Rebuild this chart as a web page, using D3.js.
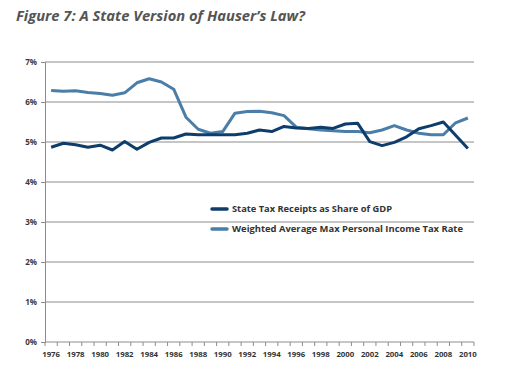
<!DOCTYPE html>
<html><head><meta charset="utf-8">
<script src="https://cdn.jsdelivr.net/npm/d3@7"></script>
<style>body{margin:0;background:#fff}svg{display:block}</style>
</head><body>
<svg id="c" width="505" height="386"></svg>
<script>
const years = d3.range(1976, 2011);
const stateTaxReceipts = [4.87,4.97,4.93,4.87,4.92,4.80,5.01,4.82,4.99,5.10,5.10,5.20,5.18,5.18,5.18,5.18,5.22,5.30,5.26,5.39,5.35,5.34,5.37,5.34,5.45,5.47,5.01,4.91,4.99,5.13,5.33,5.41,5.50,5.17,4.84];
const maxIncomeTaxRate = [6.29,6.27,6.28,6.24,6.21,6.17,6.23,6.48,6.58,6.50,6.32,5.62,5.32,5.22,5.26,5.72,5.76,5.77,5.73,5.66,5.37,5.33,5.30,5.28,5.26,5.26,5.23,5.30,5.41,5.30,5.22,5.18,5.18,5.48,5.60];
const yTicks = [0,1,2,3,4,5,6,7];
const xLabelYears = years.filter(y => y % 2 === 0);
const seriesNames = ["State Tax Receipts as Share of GDP","Weighted Average Max Personal Income Tax Rate"];

const svg = d3.select("#c");
const mLeft = 45, mRight = 474, mTop = 62, mBottom = 342;
const x = d3.scaleBand().domain(years).range([mLeft, mRight]);
const y = d3.scaleLinear().domain([0,7]).range([mBottom, mTop]);
const gridColor = "#8c8c8c";

svg.append("text").attr("x", 16).attr("y", 21)
  .attr("font-family", "Open Sans, sans-serif").attr("font-weight", "bold").attr("font-style", "italic")
  .attr("font-size", 14).attr("fill", "#555").attr("textLength", 289).attr("lengthAdjust","spacingAndGlyphs")
  .text("Figure 7: A State Version of Hauser\u2019s Law?");

// gridlines
svg.append("g").selectAll("line").data(yTicks.filter(d => d > 0)).join("line")
  .attr("x1", mLeft).attr("x2", mRight).attr("y1", d => y(d)).attr("y2", d => y(d))
  .attr("stroke", gridColor).attr("stroke-width", 1);

// y axis
const yAxis = d3.axisLeft(y).tickValues(yTicks).tickFormat(d => d + "%").tickSize(4).tickPadding(4);
const gy = svg.append("g").attr("transform", `translate(${mLeft},0)`).call(yAxis);
gy.select(".domain").attr("stroke", gridColor);
gy.selectAll(".tick line").attr("stroke", gridColor);
gy.selectAll("text").attr("font-family", "Open Sans, sans-serif").attr("font-weight", "bold")
  .attr("font-size", 8).attr("fill", "#3a3a3a");

// x axis
const gx = svg.append("g").attr("transform", `translate(0,${mBottom})`);
gx.append("line").attr("x1", mLeft).attr("x2", mRight).attr("y1", 0).attr("y2", 0).attr("stroke", gridColor);
const bounds = years.map(yr => x(yr)).concat([mRight]);
gx.selectAll("line.t").data(bounds).join("line").attr("class","t")
  .attr("x1", d => d).attr("x2", d => d).attr("y1", 0).attr("y2", 4).attr("stroke", gridColor);
gx.selectAll("text").data(xLabelYears).join("text")
  .attr("x", d => x(d) + x.bandwidth()/2).attr("y", 15)
  .attr("text-anchor", "middle").attr("font-family", "Open Sans, sans-serif").attr("font-weight", "bold")
  .attr("font-size", 7.8).attr("fill", "#333").text(d => d);

const line = d3.line().x((d,i) => x(years[i]) + x.bandwidth()/2).y(d => y(d));
const colors = ["#0f3d6b", "#4a7ea8"];
svg.append("path").datum(maxIncomeTaxRate).attr("d", line).attr("fill","none")
  .attr("stroke", colors[1]).attr("stroke-width", 3).attr("stroke-linejoin","round");
svg.append("path").datum(stateTaxReceipts).attr("d", line).attr("fill","none")
  .attr("stroke", colors[0]).attr("stroke-width", 3).attr("stroke-linejoin","round");

// legend
const lg = svg.append("g");
seriesNames.forEach((name, i) => {
  const ly = 209 + i * 20;
  lg.append("line").attr("x1", 212).attr("x2", 227).attr("y1", ly).attr("y2", ly)
    .attr("stroke", colors[i]).attr("stroke-width", 3.5).attr("stroke-linecap","round");
  lg.append("text").attr("x", 232).attr("y", ly + 3.2)
    .attr("font-family", "Open Sans, sans-serif").attr("font-weight", "bold").attr("font-size", 9)
    .attr("fill", "#333").attr("textLength", i === 0 ? 160 : 231).attr("lengthAdjust","spacingAndGlyphs")
    .text(name);
});
</script>
</body></html>
